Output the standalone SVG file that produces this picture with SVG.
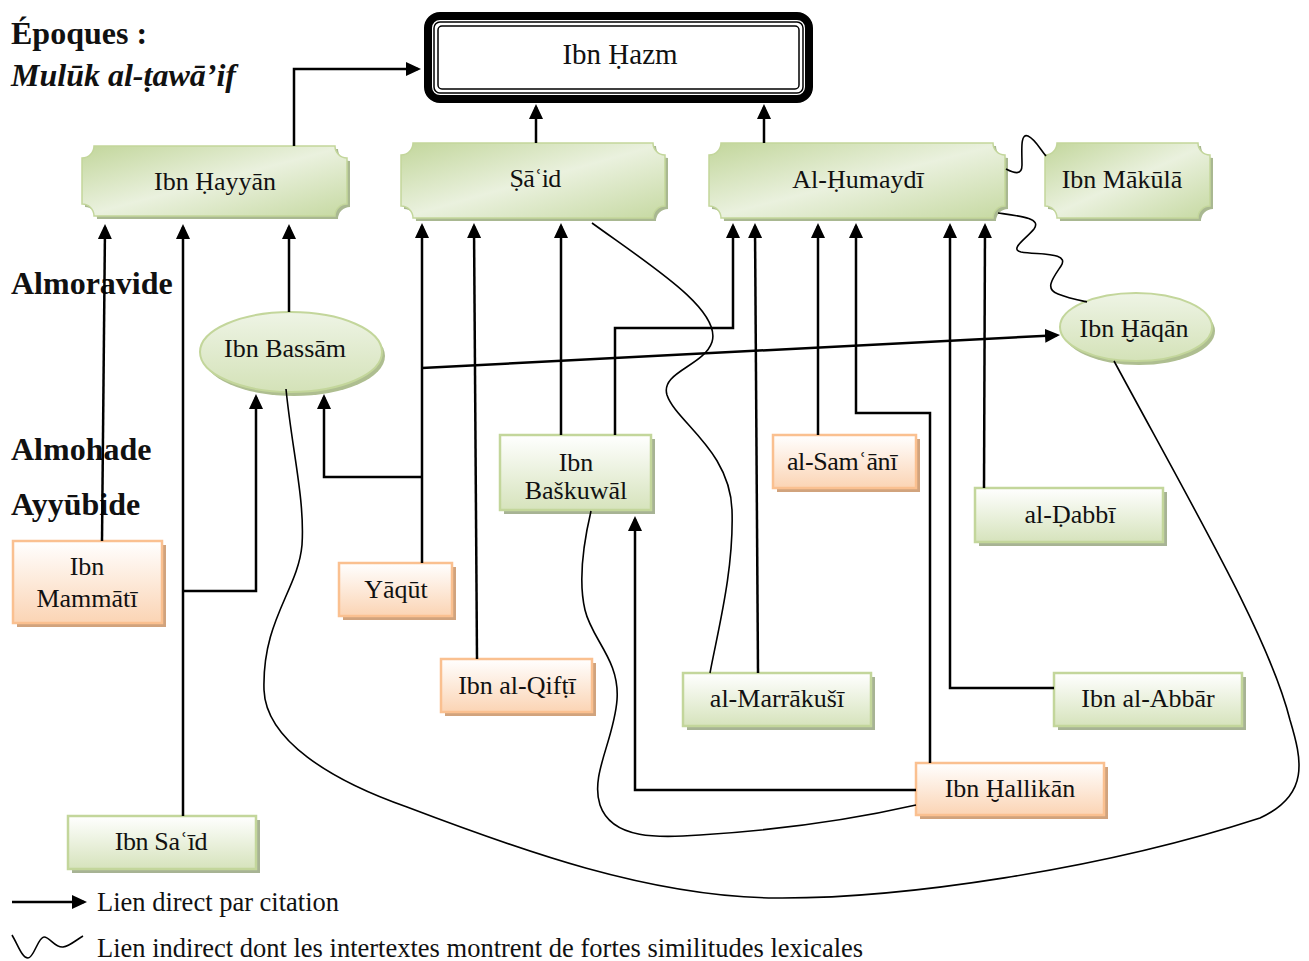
<svg xmlns="http://www.w3.org/2000/svg" width="1309" height="961" viewBox="0 0 1309 961">
<style>
text{font-family:"Liberation Serif","DejaVu Serif",serif;fill:#111}
.t{font-size:26px;text-anchor:middle}
.lbl{font-size:32px;font-weight:bold}
.leg{font-size:26.5px}
.dl{fill:none;stroke:#000;stroke-width:2.5;marker-end:url(#ah)}
.wv{fill:none;stroke:#000;stroke-width:1.6}
.pl{fill:url(#gPl);stroke:#c3d69b;stroke-width:1.5}
.plS{fill:#a9b891}
.gr{fill:url(#gGr);stroke:#c3d69b;stroke-width:2.5}
.grS{fill:#a7b394}
.or{fill:url(#gOr);stroke:#fac090;stroke-width:2.5}
.orS{fill:#d1a37d}
.el{fill:url(#gEl);stroke:#c3d69b;stroke-width:2}
.elS{fill:#aebe90}
</style>
<defs>
<linearGradient id="gPl" x1="0" y1="0" x2="1" y2="1">
<stop offset="0" stop-color="#c2d69b"/>
<stop offset="0.5" stop-color="#eaf1de"/>
<stop offset="1" stop-color="#c6d9a2"/>
</linearGradient>
<linearGradient id="gGr" x1="0" y1="0" x2="0" y2="1">
<stop offset="0" stop-color="#ffffff"/>
<stop offset="1" stop-color="#d6e3bc"/>
</linearGradient>
<linearGradient id="gOr" x1="0" y1="0" x2="0" y2="1">
<stop offset="0" stop-color="#ffffff"/>
<stop offset="1" stop-color="#fbd4b4"/>
</linearGradient>
<linearGradient id="gEl" x1="0" y1="0" x2="0" y2="1">
<stop offset="0" stop-color="#eef4e5"/>
<stop offset="1" stop-color="#d4e2b8"/>
</linearGradient>
<marker id="ah" viewBox="0 0 15 14" markerWidth="15" markerHeight="14" refX="12" refY="7" orient="auto" markerUnits="userSpaceOnUse">
<path d="M0,0 L15,7 L0,14 Z" fill="#000"/>
</marker>
<clipPath id="clipBask"><rect x="499" y="434" width="156" height="66"/></clipPath>
</defs>

<g id="labels">
<text class="lbl" x="11" y="44">Époques :</text>
<text class="lbl" x="11" y="86" font-style="italic">Mulūk al-ṭawā’if</text>
<text class="lbl" x="11" y="294">Almoravide</text>
<text class="lbl" x="11" y="460">Almohade</text>
<text class="lbl" x="11" y="515">Ayyūbide</text>
</g>

<g id="n-hazm">
<rect x="428" y="16" width="381" height="83" rx="12" fill="#fff" stroke="#000" stroke-width="8"/>
<rect x="434" y="22" width="369" height="71" rx="6" fill="none" stroke="#000" stroke-width="1.5"/>
<rect x="438" y="26" width="361" height="63" rx="4" fill="none" stroke="#000" stroke-width="1.5"/>
<text class="t" x="620" y="64" style="font-size:29px">Ibn Ḥazm</text>
</g>

<g id="n-hayyan">
<path class="plS" transform="translate(3,3)" d="M94,146 H335 A12 12 0 0 0 347,158 V204 A12 12 0 0 0 335,216 H94 A12 12 0 0 0 82,204 V158 A12 12 0 0 0 94,146 Z"/>
<path class="pl" d="M94,146 H335 A12 12 0 0 0 347,158 V204 A12 12 0 0 0 335,216 H94 A12 12 0 0 0 82,204 V158 A12 12 0 0 0 94,146 Z"/>
<text class="t" x="215" y="190">Ibn Ḥayyān</text>
</g>

<g id="n-said">
<path class="plS" transform="translate(3,3)" d="M413,143 H653 A12 12 0 0 0 665,155 V206 A12 12 0 0 0 653,218 H413 A12 12 0 0 0 401,206 V155 A12 12 0 0 0 413,143 Z"/>
<path class="pl" d="M413,143 H653 A12 12 0 0 0 665,155 V206 A12 12 0 0 0 653,218 H413 A12 12 0 0 0 401,206 V155 A12 12 0 0 0 413,143 Z"/>
<text class="t" x="535" y="187" letter-spacing="-0.8">Ṣāʿid</text>
</g>

<g id="n-humaydi">
<path class="plS" transform="translate(3,3)" d="M721,143 H993 A12 12 0 0 0 1005,155 V206 A12 12 0 0 0 993,218 H721 A12 12 0 0 0 709,206 V155 A12 12 0 0 0 721,143 Z"/>
<path class="pl" d="M721,143 H993 A12 12 0 0 0 1005,155 V206 A12 12 0 0 0 993,218 H721 A12 12 0 0 0 709,206 V155 A12 12 0 0 0 721,143 Z"/>
<text class="t" x="858" y="188">Al-Ḥumaydī</text>
</g>

<g id="n-makula">
<path class="plS" transform="translate(3,3)" d="M1057,143 H1198 A12 12 0 0 0 1210,155 V206 A12 12 0 0 0 1198,218 H1057 A12 12 0 0 0 1045,206 V155 A12 12 0 0 0 1057,143 Z"/>
<path class="pl" d="M1057,143 H1198 A12 12 0 0 0 1210,155 V206 A12 12 0 0 0 1198,218 H1057 A12 12 0 0 0 1045,206 V155 A12 12 0 0 0 1057,143 Z"/>
<text class="t" x="1122" y="188">Ibn Mākūlā</text>
</g>

<g id="n-bassam">
<ellipse class="elS" cx="294" cy="356" rx="91" ry="40"/>
<ellipse class="el" cx="291" cy="352" rx="91" ry="40"/>
<text class="t" x="285" y="357">Ibn Bassām</text>
</g>

<g id="n-haqan">
<ellipse class="elS" cx="1139" cy="331" rx="76" ry="34"/>
<ellipse class="el" cx="1136" cy="327" rx="76" ry="34"/>
<text class="t" x="1134" y="337">Ibn Ḫāqān</text>
</g>

<g id="n-mammati">
<rect class="orS" x="17" y="545" width="149" height="82"/>
<rect class="or" x="13" y="541" width="149" height="82"/>
<text class="t" x="87" y="575">Ibn</text>
<text class="t" x="87" y="607">Mammātī</text>
</g>

<g id="n-yaqut">
<rect class="orS" x="343" y="567" width="113" height="53"/>
<rect class="or" x="339" y="563" width="113" height="53"/>
<text class="t" x="396" y="598">Yāqūt</text>
</g>

<g id="n-qifti">
<rect class="orS" x="445" y="663" width="151" height="53"/>
<rect class="or" x="441" y="659" width="151" height="53"/>
<text class="t" x="517" y="694">Ibn al-Qifṭī</text>
</g>

<g id="n-baskuwal">
<rect class="grS" x="504" y="439" width="151" height="75"/>
<rect class="gr" x="500" y="435" width="151" height="75"/>
<text class="t" x="576" y="471">Ibn</text>
<text class="t" x="576" y="499" clip-path="url(#clipBask)">Baškuwāl</text>
</g>

<g id="n-samani">
<rect class="orS" x="777" y="439" width="143" height="53"/>
<rect class="or" x="773" y="435" width="143" height="53"/>
<text class="t" x="842" y="470" letter-spacing="-0.4">al-Samʿānī</text>
</g>

<g id="n-dabbi">
<rect class="grS" x="979" y="492" width="188" height="54"/>
<rect class="gr" x="975" y="488" width="188" height="54"/>
<text class="t" x="1070" y="523">al-Ḍabbī</text>
</g>

<g id="n-marrakusi">
<rect class="grS" x="687" y="677" width="188" height="53"/>
<rect class="gr" x="683" y="673" width="188" height="53"/>
<text class="t" x="777" y="707">al-Marrākušī</text>
</g>

<g id="n-abbar">
<rect class="grS" x="1058" y="677" width="188" height="53"/>
<rect class="gr" x="1054" y="673" width="188" height="53"/>
<text class="t" x="1148" y="707">Ibn al-Abbār</text>
</g>

<g id="n-hallikan">
<rect class="orS" x="920" y="767" width="188" height="52"/>
<rect class="or" x="916" y="763" width="188" height="52"/>
<text class="t" x="1010" y="797">Ibn Ḫallikān</text>
</g>

<g id="n-ibnsaid">
<rect class="grS" x="72" y="820" width="188" height="53"/>
<rect class="gr" x="68" y="816" width="188" height="53"/>
<text class="t" x="161" y="850" letter-spacing="-0.4">Ibn Saʿīd</text>
</g>

<g id="connectors">
<polyline class="dl" points="294,146 294,69 418,69"/>
<line class="dl" x1="536" y1="143" x2="536" y2="107"/>
<line class="dl" x1="764" y1="143" x2="764" y2="107"/>
<line class="dl" x1="102" y1="541" x2="105" y2="227"/>
<line class="dl" x1="183" y1="816" x2="183" y2="227"/>
<line class="dl" x1="289" y1="312" x2="289" y2="227"/>
<polyline class="dl" points="183,591 256,591 256,397"/>
<polyline class="dl" points="422,477 324,477 324,397"/>
<line class="dl" x1="422" y1="563" x2="422" y2="226"/>
<line class="dl" x1="422" y1="368" x2="1057" y2="335.2"/>
<line class="dl" x1="477" y1="659" x2="474" y2="226"/>
<line class="dl" x1="561" y1="435" x2="561" y2="226"/>
<polyline class="dl" points="615,435 615,328 733,328 733,226"/>
<line class="dl" x1="758" y1="673" x2="755" y2="226"/>
<line class="dl" x1="818" y1="435" x2="818" y2="226"/>
<polyline class="dl" points="930,763 930,413 856,413 856,226"/>
<polyline class="dl" points="1054,688 950,688 950,226"/>
<line class="dl" x1="984" y1="488" x2="985" y2="226"/>
<polyline class="dl" points="916,790 635,790 635,519"/>

<path class="wv" d="M592,223 C650,265 722,310 712,342 C704,366 660,372 667,395 C676,422 730,450 732,510 C734,570 718,630 710,673"/>
<path class="wv" d="M1006,169 C1014,173 1022,176 1022,165 C1022,150 1020,133 1028,136 C1035,139 1040,149 1046,156"/>
<path class="wv" d="M998,213 C1020,216 1042,218 1034,229 C1026,239 1009,249 1021,252 C1040,255 1070,252 1061,266 C1053,278 1044,289 1058,294 C1068,298 1078,300 1087,302"/>
<path class="wv" d="M286,389 C292,450 305,500 302,545 C298,590 262,620 264,690 C266,740 330,780 407,807 C520,850 650,897 775,898 C900,899 1100,870 1260,818 C1310,795 1302,760 1290,720 C1270,640 1200,520 1114,361"/>
<path class="wv" d="M591,511 C583,545 578,580 585,610 C592,640 620,660 617,700 C614,740 590,775 600,805 C612,840 660,838 700,835 C780,830 850,820 916,805"/>
</g>

<g id="legend">
<line class="dl" x1="12" y1="902" x2="84" y2="902"/>
<text class="leg" x="97" y="911">Lien direct par citation</text>
<path class="wv" d="M12,935 C18,945 22,958 28,958 C34,958 38,937 44,937 C50,937 55,948 63,947 C70,946 76,940 83,936"/>
<text class="leg" x="97" y="957">Lien indirect dont les intertextes montrent de fortes similitudes lexicales</text>
</g>
</svg>
